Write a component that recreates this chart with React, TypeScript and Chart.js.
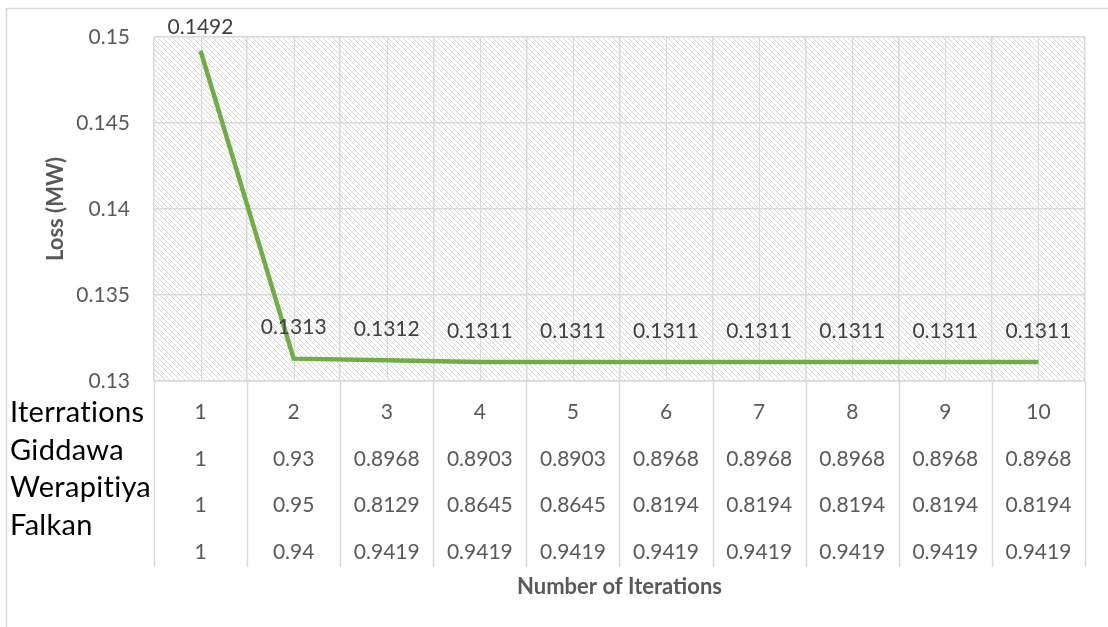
import { useEffect, useRef } from 'react';
import { Chart, registerables } from 'chart.js';

Chart.register(...registerables);

const iterations = ['1', '2', '3', '4', '5', '6', '7', '8', '9', '10'];
const loss = [0.1492, 0.1313, 0.1312, 0.1311, 0.1311, 0.1311, 0.1311, 0.1311, 0.1311, 0.1311];
const giddawa = ['1', '0.93', '0.8968', '0.8903', '0.8903', '0.8968', '0.8968', '0.8968', '0.8968', '0.8968'];
const werapitiya = ['1', '0.95', '0.8129', '0.8645', '0.8645', '0.8194', '0.8194', '0.8194', '0.8194', '0.8194'];
const falkan = ['1', '0.94', '0.9419', '0.9419', '0.9419', '0.9419', '0.9419', '0.9419', '0.9419', '0.9419'];
const rowNames = ['Iterrations', 'Giddawa', 'Werapitiya', 'Falkan'];

const FONT = 'Lato';
const GRID = '#d9d9d9';
const TEXT = '#595959';

function makeHatch(): CanvasPattern | string {
  const s = 5;
  const c = document.createElement('canvas');
  c.width = s;
  c.height = s;
  const g = c.getContext('2d');
  if (!g) return '#f2f2f2';
  g.fillStyle = '#ffffff';
  g.fillRect(0, 0, s, s);
  g.strokeStyle = '#d6d6d6';
  g.lineWidth = 1;
  for (const k of [-1, 0, 1]) {
    g.beginPath();
    g.moveTo(k * s - 1, -1);
    g.lineTo(k * s + s + 1, s + 1);
    g.stroke();
  }
  return g.createPattern(c, 'repeat') ?? '#f2f2f2';
}

// background, border, hatch, mid-category lines, labels and the data table
const excelBits = {
  id: 'excelBits',
  beforeDraw(chart: Chart) {
    const { ctx, chartArea: a } = chart;
    ctx.save();
    ctx.strokeStyle = GRID;
    ctx.lineWidth = 1.5;
    ctx.beginPath();
    ctx.moveTo(6.5, 627);
    ctx.lineTo(6.5, 8.5);
    ctx.lineTo(1108, 8.5);
    ctx.stroke();
    ctx.fillStyle = makeHatch();
    ctx.fillRect(a.left, a.top, a.right - a.left, a.bottom - a.top);
    ctx.restore();
  },
  beforeDatasetsDraw(chart: Chart) {
    const { ctx, chartArea: a } = chart;
    const x = chart.scales.x;
    ctx.save();
    ctx.strokeStyle = GRID;
    ctx.lineWidth = 1;
    iterations.forEach((_, i) => {
      const px = Math.round(x.getPixelForValue(i)) + 0.5;
      ctx.beginPath();
      ctx.moveTo(px, a.top);
      ctx.lineTo(px, a.bottom);
      ctx.stroke();
    });
    ctx.restore();
  },
  afterDraw(chart: Chart) {
    const { ctx, chartArea: a } = chart;
    const x = chart.scales.x;
    const meta = chart.getDatasetMeta(0);
    ctx.save();
    // point labels
    ctx.font = `21px ${FONT}`;
    ctx.fillStyle = '#404040';
    ctx.textAlign = 'center';
    ctx.textBaseline = 'middle';
    meta.data.forEach((pt, i) => {
      const y = Math.max(pt.y - 31, a.top - 10);
      ctx.fillText(String(loss[i]), pt.x, y);
    });
    // table lines
    const step = x.getPixelForValue(1) - x.getPixelForValue(0);
    ctx.strokeStyle = GRID;
    ctx.lineWidth = 1.5;
    for (let i = 0; i <= iterations.length; i++) {
      const px = Math.round(x.getPixelForValue(0) - step / 2 + i * step) + 0.5;
      ctx.beginPath();
      ctx.moveTo(px, a.bottom);
      ctx.lineTo(px, 567);
      ctx.stroke();
    }
    // table values
    const rows = [iterations, giddawa, werapitiya, falkan];
    const rowY = [412, 459, 505, 552];
    ctx.fillStyle = TEXT;
    rows.forEach((row, r) => {
      row.forEach((v, i) => {
        ctx.fillText(v, x.getPixelForValue(i), rowY[r]);
      });
    });
    // row headers
    ctx.font = `29px ${FONT}`;
    (ctx as any).letterSpacing = '0.3px';
    ctx.fillStyle = '#000000';
    ctx.textAlign = 'left';
    ctx.textBaseline = 'alphabetic';
    const nameY = [422, 460, 497, 535];
    rowNames.forEach((n, r) => ctx.fillText(n, 10, nameY[r]));
    ctx.restore();
  },
};

const App = () => {
  const canvasRef = useRef<HTMLCanvasElement>(null);
  const chartRef = useRef<Chart | null>(null);

  useEffect(() => {
    document.body.style.margin = '0';
    if (!canvasRef.current) return;
    if (chartRef.current) chartRef.current.destroy();

    chartRef.current = new Chart(canvasRef.current, {
      type: 'line',
      data: {
        labels: iterations,
        datasets: [
          {
            label: 'Loss',
            data: loss,
            borderColor: '#70AD47',
            borderWidth: 4.5,
            pointRadius: 0,
            tension: 0,
            fill: false,
          },
        ],
      },
      options: {
        responsive: true,
        maintainAspectRatio: false,
        animation: false,
        layout: { padding: { left: 0, right: 23, top: 37, bottom: 0 } },
        plugins: {
          legend: { display: false },
          tooltip: { enabled: false },
        },
        scales: {
          x: {
            offset: true,
            afterFit: (s: any) => {
              s.height = 246;
            },
            grid: { color: GRID, lineWidth: 1.5, offset: true, drawTicks: false },
            border: { color: GRID, width: 1.5 },
            ticks: { display: false },
            title: {
              display: true,
              text: 'Number of Iterations',
              color: TEXT,
              font: { family: FONT, size: 22, weight: 'bold' },
              padding: { top: 0, bottom: 26.8 },
            },
          },
          y: {
            min: 0.13,
            max: 0.15,
            afterFit: (s: any) => {
              s.width = 154;
            },
            grid: { color: GRID, lineWidth: 1.5, drawTicks: false },
            border: { display: false },
            ticks: {
              stepSize: 0.005,
              padding: 24,
              color: TEXT,
              font: { family: FONT, size: 21 },
              callback: (v: any) => String(Number(Number(v).toFixed(3))),
            },
            title: {
              display: true,
              text: 'Loss (MW)',
              color: TEXT,
              font: { family: FONT, size: 22, weight: 'bold' },
              padding: { top: 42.8, bottom: 0 },
            },
          },
        },
      },
      plugins: [excelBits],
    });

    return () => {
      if (chartRef.current) {
        chartRef.current.destroy();
        chartRef.current = null;
      }
    };
  }, []);

  return (
    <div style={{ width: 1108, height: 627, position: 'relative', background: '#fff' }}>
      <canvas ref={canvasRef} />
    </div>
  );
};

export default App;
